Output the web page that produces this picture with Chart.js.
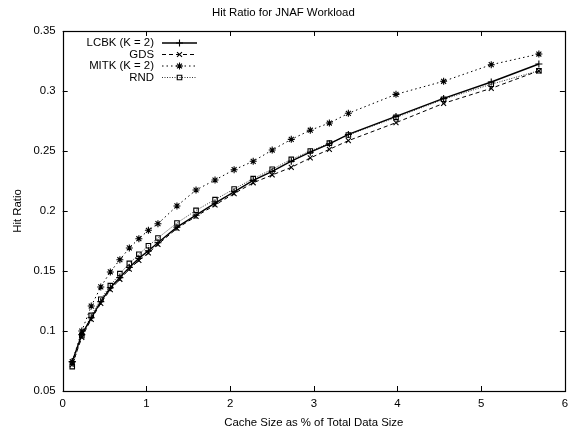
<!DOCTYPE html>
<html>
<head>
<meta charset="utf-8">
<script src="https://cdn.jsdelivr.net/npm/chart.js@4.4.0/dist/chart.umd.min.js"></script>
<style>
  html, body { margin: 0; padding: 0; background: #fff; }
  #wrap { width: 570px; height: 432px; }
</style>
</head>
<body>
<div id="wrap"><canvas id="hit_chart"></canvas></div>
<script>
// cache size (% of total data size)
var cacheSize = [0.114, 0.228, 0.341, 0.455, 0.569, 0.683, 0.796, 0.910, 1.024, 1.138,
                 1.365, 1.593, 1.820, 2.048, 2.276, 2.503, 2.731, 2.958, 3.186, 3.413,
                 3.982, 4.551, 5.120, 5.689];

var lcbk = [0.0745, 0.097, 0.111, 0.1245, 0.136, 0.1445, 0.153, 0.1605, 0.1668, 0.1735,
            0.1865, 0.1965, 0.2065, 0.216, 0.2255, 0.233, 0.2415, 0.249, 0.256, 0.2638,
            0.2788, 0.2938, 0.3075, 0.3225];
var gds = [0.072, 0.0947, 0.1097, 0.123, 0.1345, 0.1431, 0.1515, 0.1588, 0.165, 0.1722,
           0.1855, 0.1955, 0.205, 0.2145, 0.2235, 0.23, 0.2364, 0.2442, 0.2514, 0.2586,
           0.2736, 0.2897, 0.3022, 0.3168];
var mitk = [0.0744, 0.100, 0.1208, 0.1367, 0.1492, 0.1594, 0.1692, 0.1769, 0.1839, 0.1894,
            0.2042, 0.2175, 0.2258, 0.2344, 0.2414, 0.2508, 0.2597, 0.2673, 0.2733, 0.2814,
            0.2972, 0.3081, 0.3219, 0.3308];
var rnd = [0.0703, 0.096, 0.113, 0.1265, 0.1378, 0.1478, 0.1563, 0.164, 0.171, 0.1775,
           0.19, 0.2005, 0.2095, 0.2183, 0.227, 0.2348, 0.243, 0.25, 0.2565, 0.2633,
           0.278, 0.2931, 0.3056, 0.3169];

var seriesNames = ['LCBK (K = 2)', 'GDS', 'MITK (K = 2)', 'RND'];
var xTicks = [0, 1, 2, 3, 4, 5, 6];
var yTicks = [0.05, 0.1, 0.15, 0.2, 0.25, 0.3, 0.35];

function pts(ys) {
    return cacheSize.map(function (x, i) { return { x: x, y: ys[i] }; });
}

var FONT = 'Liberation Sans, Arial, sans-serif';
var FS = 11.4;

// gnuplot style frame with inward ticks on all four sides
var framePlugin = {
    id: 'frame',
    beforeDatasetsDraw: function (chart) {
        var ctx = chart.ctx, a = chart.chartArea;
        var xs = chart.scales.x, ys = chart.scales.y;
        var t = 5;
        ctx.save();
        ctx.strokeStyle = '#000';
        ctx.lineWidth = 1;
        ctx.beginPath();
        xTicks.forEach(function (v) {
            var px = Math.round(xs.getPixelForValue(v)) + 0.5;
            ctx.moveTo(px, a.bottom); ctx.lineTo(px, a.bottom - t);
            ctx.moveTo(px, a.top); ctx.lineTo(px, a.top + t);
        });
        yTicks.forEach(function (v) {
            var py = Math.round(ys.getPixelForValue(v)) + 0.5;
            ctx.moveTo(a.left, py); ctx.lineTo(a.left + t, py);
            ctx.moveTo(a.right, py); ctx.lineTo(a.right - t, py);
        });
        ctx.stroke();
        ctx.lineWidth = 1.2;
        ctx.strokeRect(Math.round(a.left) + 0.5, Math.round(a.top) + 0.5,
                       Math.round(a.right - a.left), Math.round(a.bottom - a.top));
        ctx.restore();
    }
};

// right aligned key, line sample to the right of the text
var keyPlugin = {
    id: 'key',
    afterDatasetsDraw: function (chart) {
        var ctx = chart.ctx;
        var textRight = 154, x0 = 162, x1 = 197, y0 = 43, dy = 11.5;
        ctx.save();
        chart.data.datasets.forEach(function (ds, i) {
            var y = y0 + i * dy;
            ctx.fillStyle = '#000';
            ctx.font = FS + 'px ' + FONT;
            ctx.textAlign = 'right';
            ctx.textBaseline = 'middle';
            ctx.fillText(ds.label, textRight, y);
            ctx.strokeStyle = ds.borderColor;
            ctx.lineWidth = ds.borderWidth;
            ctx.setLineDash(ds.borderDash || []);
            ctx.beginPath();
            ctx.moveTo(x0, y); ctx.lineTo(x1, y);
            ctx.stroke();
            ctx.setLineDash([]);
            ctx.strokeStyle = '#000';
            ctx.fillStyle = ds.pointBackgroundColor;
            ctx.lineWidth = ds.pointBorderWidth;
            Chart.helpers.drawPoint(ctx, {
                pointStyle: ds.pointStyle, radius: ds.pointRadius, rotation: 0,
                borderWidth: ds.pointBorderWidth
            }, (x0 + x1) / 2, y);
        });
        ctx.restore();
    }
};

function makeSet(label, ys, style, width, dash, color) {
    return {
        label: label,
        data: pts(ys),
        borderColor: color,
        backgroundColor: '#000',
        pointBorderColor: '#000',
        pointBackgroundColor: style === 'rect' ? 'rgba(0,0,0,0)' : '#000',
        borderWidth: width,
        borderDash: dash,
        pointStyle: style,
        pointRadius: style === 'rect' ? 3.2 : 3.5,
        pointBorderWidth: 1.1,
        fill: false,
        tension: 0
    };
}

var ctx = document.getElementById('hit_chart');
new Chart(ctx, {
    type: 'line',
    data: {
        datasets: [
            makeSet(seriesNames[0], lcbk, 'cross', 1.4, [], '#000'),
            makeSet(seriesNames[1], gds, 'crossRot', 1, [4, 3], '#000'),
            makeSet(seriesNames[2], mitk, 'star', 1, [1.5, 3], '#000'),
            makeSet(seriesNames[3], rnd, 'rect', 1, [1, 1.5], '#333')
        ]
    },
    plugins: [framePlugin, keyPlugin],
    options: {
        responsive: true,
        maintainAspectRatio: false,
        animation: false,
        layout: { padding: { left: 0, right: 3.3, top: 0, bottom: 0 } },
        plugins: {
            legend: { display: false },
            tooltip: { enabled: false },
            title: {
                display: true,
                text: 'Hit Ratio for JNAF Workload',
                color: '#000',
                font: { family: FONT, size: FS, weight: 'normal' },
                padding: { top: 6, bottom: 11.3 }
            }
        },
        scales: {
            x: {
                type: 'linear',
                min: 0, max: 6,
                afterBuildTicks: function (s) { s.ticks = xTicks.map(function (v) { return { value: v }; }); },
                afterFit: function (s) { s.height = 41; s.paddingLeft = 0; s.paddingRight = 0; },
                grid: { display: false, drawTicks: false },
                border: { display: false },
                ticks: { color: '#000', padding: 6, font: { family: FONT, size: FS } },
                title: {
                    display: true, text: 'Cache Size as % of Total Data Size', color: '#000',
                    font: { family: FONT, size: FS }, padding: { top: 4, bottom: 2 }
                }
            },
            y: {
                type: 'linear',
                min: 0.05, max: 0.35,
                afterBuildTicks: function (s) { s.ticks = yTicks.map(function (v) { return { value: v }; }); },
                afterFit: function (s) { s.width = 62.7; s.paddingTop = 0; s.paddingBottom = 0; },
                grid: { display: false, drawTicks: false },
                border: { display: false },
                ticks: {
                    color: '#000', padding: 7, font: { family: FONT, size: FS },
                    callback: function (v) { return String(parseFloat(v.toFixed(2))); }
                },
                title: {
                    display: true, text: 'Hit Ratio', color: '#000',
                    font: { family: FONT, size: FS }, padding: { top: 11, bottom: 4 }
                }
            }
        }
    }
});
</script>
</body>
</html>
